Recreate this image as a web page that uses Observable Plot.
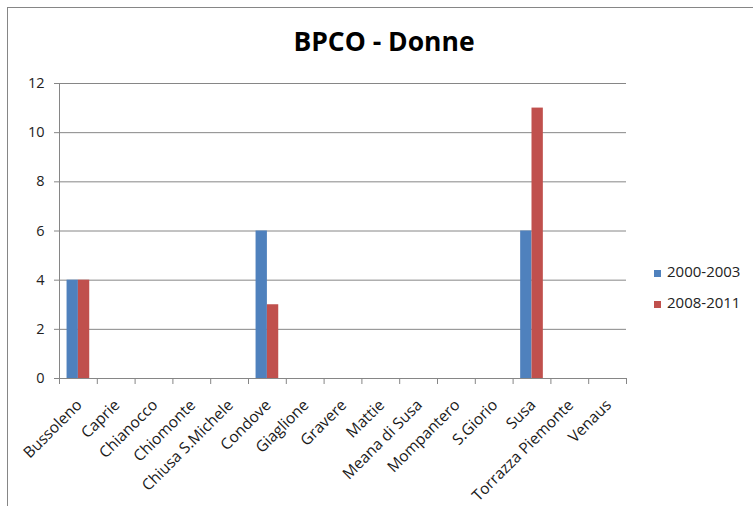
<!DOCTYPE html>
<html>
<head>
<meta charset="utf-8">
<script src="https://cdn.jsdelivr.net/npm/d3@7"></script>
<script src="https://cdn.jsdelivr.net/npm/@observablehq/plot@0.6"></script>
<style>
  html, body { margin: 0; padding: 0; background: #fff; }
  #wrap { position: relative; width: 753px; height: 506px; overflow: hidden; font-family: "Open Sans", sans-serif; }
  #border { position: absolute; left: 7px; top: 7px; width: 800px; height: 600px; border-left: 1.5px solid #868686; border-top: 1.5px solid #868686; }
  #title { position: absolute; left: 0; top: 28px; width: 768px; text-align: center; font-size: 26.5px; line-height: 1; font-weight: bold; color: #000; }
  .leg { position: absolute; left: 654px; font-size: 15px; line-height: 1; color: #222; white-space: nowrap; }
  .sw { display: inline-block; width: 7px; height: 7px; margin-right: 6px; }
  #chart { position: absolute; left: 0; top: 0; }
</style>
</head>
<body>
<div id="wrap">
  <div id="border"></div>
  <div id="chart"></div>
  <div id="title">BPCO - Donne</div>
  <div id="legend"></div>
</div>
<script>
const towns = ["Bussoleno","Caprie","Chianocco","Chiomonte","Chiusa S.Michele","Condove","Giaglione","Gravere","Mattie","Meana di Susa","Mompantero","S.Giorio","Susa","Torrazza Piemonte","Venaus"];
const seriesNames = ["2000-2003", "2008-2011"];
const values2000 = [4,0,0,0,0,6,0,0,0,0,0,0,6,0,0];
const values2008 = [4,0,0,0,0,3,0,0,0,0,0,0,11,0,0];
const colors = ["#4f81bd", "#c0504d"];
const yTicks = [0,2,4,6,8,10,12];

const W = 753, H = 506, mL = 59, mR = 127, mT = 83, mB = 128;
const step = (W - mL - mR) / towns.length;
const barW = step * 0.3;
const outer = (step - 2 * barW) / 2;

const data = [];
towns.forEach((t, i) => {
  data.push({town: t, series: seriesNames[0], value: values2000[i]});
  data.push({town: t, series: seriesNames[1], value: values2008[i]});
});

const gray = "#868686";
const chart = Plot.plot({
  width: W, height: H,
  marginLeft: mL, marginRight: mR, marginTop: mT, marginBottom: mB,
  style: {fontFamily: "'Open Sans', sans-serif", fontSize: "15px", color: "#222", background: "transparent"},
  x: {domain: towns, padding: 0, round: false, axis: null},
  y: {domain: [0, 12], axis: null},
  color: {domain: seriesNames, range: colors},
  marks: [
    Plot.gridY(yTicks.slice(1), {stroke: gray, strokeOpacity: 1}),
    Plot.axisY(yTicks, {tickSize: 5, tickPadding: 10, stroke: gray, strokeOpacity: 1, fill: "#222", fontSize: 14.5, label: null}),
    Plot.barY(data.filter(d => d.series === seriesNames[0]), {x: "town", y: "value", fill: "series", insetLeft: outer, insetRight: step - outer - barW}),
    Plot.barY(data.filter(d => d.series === seriesNames[1]), {x: "town", y: "value", fill: "series", insetLeft: outer + barW, insetRight: outer}),
    Plot.ruleY([0], {stroke: gray}),
    Plot.axisX(towns, {tickSize: 6, tickFormat: () => "", dx: -step / 2, stroke: gray, strokeOpacity: 1, label: null}),
    Plot.axisX([towns[towns.length - 1]], {tickSize: 6, tickFormat: () => "", dx: step / 2, stroke: gray, strokeOpacity: 1, label: null}),
    Plot.ruleX([towns[0]], {y1: 0, y2: 12, dx: -step / 2, stroke: gray}),
    Plot.axisX(towns, {tickSize: 0, tickPadding: 24, dx: 1, tickRotate: -45, fill: "#1a1a1a", fontSize: 15.5, label: null})
  ]
});
document.getElementById("chart").appendChild(chart);

const legend = document.getElementById("legend");
const tops = [264, 295];
seriesNames.forEach((s, i) => {
  const el = document.createElement("div");
  el.className = "leg";
  el.style.top = tops[i] + "px";
  el.innerHTML = `<span class="sw" style="background:${colors[i]}"></span>${s}`;
  legend.appendChild(el);
});
</script>
</body>
</html>
